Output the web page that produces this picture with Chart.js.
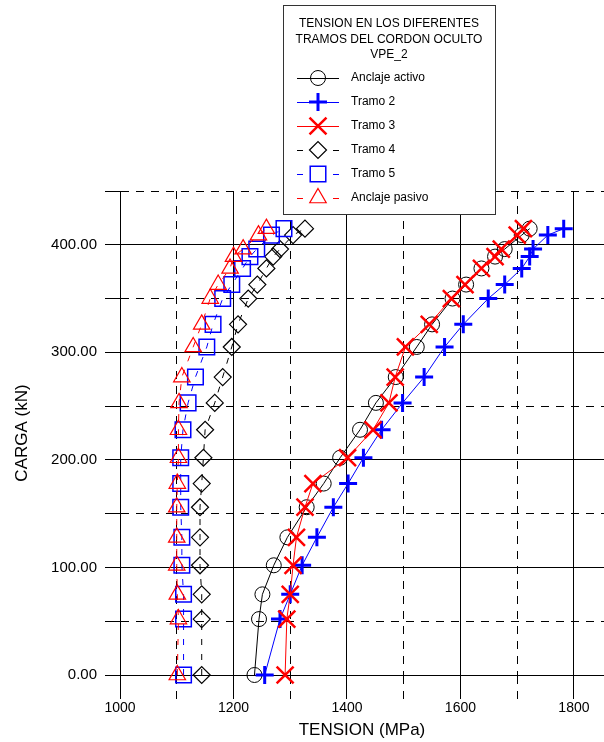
<!DOCTYPE html>
<html>
<head>
<meta charset="utf-8">
<title>Tension en los diferentes tramos del cordon oculto VPE_2</title>
<script src="https://cdn.jsdelivr.net/npm/chart.js@4/dist/chart.umd.min.js"></script>
<style>
  html, body { margin: 0; padding: 0; background: #fff; overflow: hidden; }
  canvas { display: block; }
</style>
</head>
<body>
<canvas id="chart" width="604" height="742"></canvas>
<script>
// Load steps (kN), shared by every section of the strand
const loads = [0, 52, 75, 102, 128, 156, 178, 202, 228, 253, 277, 305, 326, 350, 363, 378, 389, 396, 409, 415];

// Tension (MPa) measured in each section at each load step
const anclajeActivo = [1237, 1245, 1251, 1271, 1295, 1329, 1359, 1388, 1423, 1451, 1486, 1523, 1550, 1586, 1610, 1637, 1661, 1678, 1708, 1722];
const tramo2        = [1255, 1282, 1300, 1321, 1347, 1376, 1402, 1429, 1461, 1498, 1536, 1572, 1605, 1649, 1678, 1708, 1722, 1728, 1754, 1782];
const tramo3        = [1291, 1294, 1300, 1305, 1311, 1326, 1340, 1401, 1446, 1474, 1485, 1503, 1545, 1584, 1608, 1637, 1661, 1672, 1700, 1711];
const tramo4        = [1144, 1144, 1144, 1141, 1141, 1141, 1144, 1147, 1150, 1167, 1181, 1197, 1208, 1226, 1242, 1258, 1270, 1282, 1305, 1326];
const tramo5        = [1112, 1112, 1112, 1109, 1109, 1107, 1107, 1107, 1111, 1120, 1133, 1153, 1164, 1181, 1197, 1216, 1229, 1241, 1267, 1289];
const anclajePasivo = [1101, 1103, 1101, 1100, 1100, 1100, 1101, 1103, 1103, 1104, 1109, 1129, 1144, 1159, 1173, 1194, 1200, 1217, 1244, 1258];

const seriesNames = ['Anclaje activo', 'Tramo 2', 'Tramo 3', 'Tramo 4', 'Tramo 5', 'Anclaje pasivo'];
const legendTitle = ['TENSION EN LOS DIFERENTES', 'TRAMOS DEL CORDON OCULTO', 'VPE_2'];

const FONT = '"Liberation Sans", Arial, Helvetica, sans-serif';
const BLUE = '#0000ff';
const RED = '#ff0000';
const BLACK = '#000000';
const DASH = [6, 9];

function toPoints(values) {
  return values.map((v, i) => ({ x: v, y: loads[i] }));
}

const styles = [
  { color: BLACK, pointStyle: 'circle',   radius: 7.5, pointWidth: 1,   dash: [] },
  { color: BLUE,  pointStyle: 'cross',    radius: 9,   pointWidth: 3,   dash: [] },
  { color: RED,   pointStyle: 'crossRot', radius: 12,  pointWidth: 2.5, dash: [] },
  { color: BLACK, pointStyle: 'rectRot',  radius: 8.5, pointWidth: 1.2, dash: DASH },
  { color: BLUE,  pointStyle: 'rect',     radius: 11,  pointWidth: 1.5, dash: DASH },
  { color: RED,   pointStyle: 'triangle', radius: 9.5, pointWidth: 1.2, dash: DASH }
];
const seriesValues = [anclajeActivo, tramo2, tramo3, tramo4, tramo5, anclajePasivo];

const datasets = seriesValues.map((vals, i) => ({
  label: seriesNames[i],
  data: toPoints(vals),
  showLine: true,
  borderColor: styles[i].color,
  borderWidth: 1,
  borderDash: styles[i].dash,
  backgroundColor: 'rgba(0,0,0,0)',
  pointStyle: styles[i].pointStyle,
  pointRadius: styles[i].radius,
  pointBorderColor: styles[i].color,
  pointBackgroundColor: 'rgba(0,0,0,0)',
  pointBorderWidth: styles[i].pointWidth,
  tension: 0,
  clip: false,
  order: seriesNames.length - i
}));

// Boxed legend with its three-line heading, drawn over the plot
const boxedLegend = {
  id: 'boxedLegend',
  afterDraw(chart) {
    const ctx = chart.ctx;
    const bx = 283, by = 5, bw = 212, bh = 209;
    ctx.save();
    ctx.setLineDash([]);
    ctx.fillStyle = '#ffffff';
    ctx.fillRect(bx, by, bw, bh);
    ctx.strokeStyle = '#333333';
    ctx.lineWidth = 1;
    ctx.strokeRect(bx + 0.5, by + 0.5, bw, bh);

    ctx.fillStyle = '#000';
    ctx.font = '12px ' + FONT;
    ctx.textAlign = 'center';
    ctx.textBaseline = 'middle';
    legendTitle.forEach((line, i) => ctx.fillText(line, 389, 24 + i * 15.5));

    const x0 = 297, x1 = 339, mx = 318;
    seriesNames.forEach((name, i) => {
      const y = 78 + i * 24;
      const st = styles[i];
      ctx.strokeStyle = st.color;
      ctx.lineWidth = 1;
      ctx.setLineDash(st.dash.length ? [6, 30] : []);
      ctx.beginPath();
      ctx.moveTo(x0, y + 0.5);
      ctx.lineTo(x1, y + 0.5);
      ctx.stroke();
      ctx.setLineDash([]);
      ctx.fillStyle = 'rgba(0,0,0,0)';
      ctx.lineWidth = st.pointWidth;
      Chart.helpers.drawPoint(ctx, {
        pointStyle: st.pointStyle,
        radius: st.radius,
        rotation: 0,
        borderWidth: st.pointWidth
      }, mx, y);
      ctx.fillStyle = '#000';
      ctx.font = '12px ' + FONT;
      ctx.textAlign = 'left';
      ctx.fillText(name, 351, y);
    });
    ctx.restore();
  }
};

const isMinorX = ctx => !!ctx.tick && ctx.tick.value % 200 !== 0;
const isMinorY = ctx => !!ctx.tick && ctx.tick.value % 100 !== 0;

new Chart(document.getElementById('chart'), {
  type: 'scatter',
  data: { datasets },
  plugins: [boxedLegend],
  options: {
    responsive: false,
    animation: false,
    devicePixelRatio: 1,
    events: [],
    layout: { autoPadding: false, padding: { top: 191, right: 0, bottom: 0, left: 0 } },
    plugins: {
      legend: { display: false },
      tooltip: { enabled: false },
      title: { display: false }
    },
    scales: {
      x: {
        type: 'linear',
        min: 1000,
        max: 1853,
        afterFit(scale) {
          scale.height = 67;
          scale.paddingLeft = 0;
          scale.paddingRight = 0;
        },
        ticks: {
          stepSize: 100,
          includeBounds: false,
          autoSkip: false,
          maxRotation: 0,
          padding: 1,
          color: '#000',
          font: { family: FONT, size: 14 },
          callback: v => (v % 200 === 0 ? String(v) : '')
        },
        grid: {
          color: BLACK,
          lineWidth: 1,
          tickLength: 24,
          tickColor: BLACK,
          tickWidth: 1,
          tickBorderDash: ctx => (isMinorX(ctx) ? [8, 7] : [])
        },
        border: {
          display: true,
          color: BLACK,
          width: 1,
          dash: ctx => (isMinorX(ctx) ? [8, 7] : [])
        },
        title: {
          display: true,
          text: 'TENSION (MPa)',
          color: '#000',
          font: { family: FONT, size: 17 },
          padding: { top: 0, bottom: 1 }
        }
      },
      y: {
        type: 'linear',
        min: 0,
        max: 450,
        afterFit(scale) {
          scale.width = 120;
          scale.paddingTop = 0;
          scale.paddingBottom = 0;
        },
        ticks: {
          stepSize: 50,
          autoSkip: false,
          padding: 8,
          color: '#000',
          font: { family: FONT, size: 15 },
          callback: v => (v % 100 === 0 ? v.toFixed(2) : '')
        },
        grid: {
          color: BLACK,
          lineWidth: 1,
          tickLength: 15,
          tickColor: BLACK,
          tickWidth: 1
        },
        border: {
          display: true,
          color: BLACK,
          width: 1,
          dash: ctx => (isMinorY(ctx) ? [8, 7] : [])
        },
        title: {
          display: true,
          text: 'CARGA (kN)',
          color: '#000',
          font: { family: FONT, size: 17 },
          padding: { top: 12, bottom: 0 }
        }
      }
    }
  }
});
</script>
</body>
</html>
